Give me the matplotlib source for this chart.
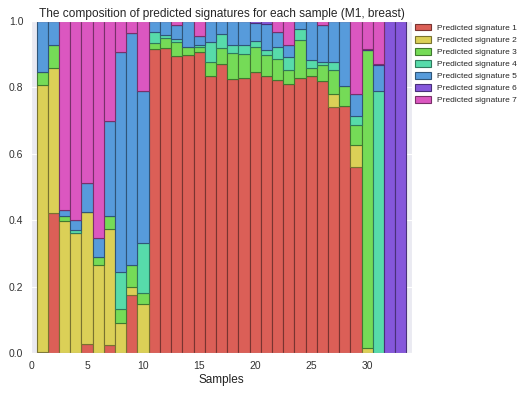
import matplotlib
matplotlib.use("Agg")
import matplotlib.pyplot as plt
import numpy as np
import seaborn as sns

samples = list(range(1, 34))
labels = ["Predicted signature %d" % i for i in range(1, 8)]

# segment heights, per sample
sig1 = [0.005, 0.421, 0.0, 0.0, 0.028, 0.0, 0.025, 0.0, 0.175, 0.0,
        0.917, 0.920, 0.895, 0.899, 0.907, 0.835, 0.870, 0.826, 0.829, 0.848,
        0.834, 0.822, 0.810, 0.827, 0.835, 0.820, 0.740, 0.744, 0.561, 0.0,
        0.0, 0.0, 0.0]
sig2 = [0.802, 0.438, 0.399, 0.361, 0.398, 0.266, 0.349, 0.090, 0.025, 0.148,
        0.0, 0.0, 0.0, 0.0, 0.0, 0.0, 0.0, 0.0, 0.0, 0.0,
        0.0, 0.0, 0.0, 0.0, 0.0, 0.0, 0.040, 0.0, 0.067, 0.015,
        0.0, 0.0, 0.0]
sig3 = [0.040, 0.070, 0.014, 0.0, 0.0, 0.025, 0.040, 0.042, 0.066, 0.034,
        0.018, 0.029, 0.042, 0.023, 0.015, 0.042, 0.050, 0.079, 0.073, 0.074,
        0.063, 0.065, 0.044, 0.117, 0.025, 0.047, 0.072, 0.060, 0.059, 0.897,
        0.0, 0.0, 0.0]
sig4 = [0.0, 0.0, 0.0, 0.010, 0.0, 0.0, 0.0, 0.114, 0.0, 0.151,
        0.032, 0.008, 0.008, 0.0, 0.007, 0.060, 0.042, 0.022, 0.025, 0.017,
        0.015, 0.035, 0.038, 0.031, 0.022, 0.010, 0.025, 0.0, 0.027, 0.0,
        0.789, 0.0, 0.0]
sig5 = [0.153, 0.071, 0.018, 0.030, 0.087, 0.057, 0.286, 0.661, 0.698, 0.457,
        0.033, 0.043, 0.042, 0.078, 0.026, 0.063, 0.038, 0.073, 0.073, 0.054,
        0.080, 0.046, 0.037, 0.025, 0.118, 0.110, 0.123, 0.196, 0.066, 0.0,
        0.078, 0.0, 0.0]
sig6 = [0.0, 0.0, 0.0, 0.0, 0.0, 0.0, 0.0, 0.0, 0.0, 0.0,
        0.0, 0.0, 0.0, 0.0, 0.0, 0.0, 0.0, 0.0, 0.0, 0.007,
        0.008, 0.0, 0.0, 0.0, 0.0, 0.0, 0.0, 0.0, 0.0, 0.005,
        0.005, 1.0, 1.0]
sig7 = [0.0, 0.0, 0.569, 0.599, 0.487, 0.652, 0.300, 0.093, 0.036, 0.210,
        0.0, 0.0, 0.013, 0.0, 0.045, 0.0, 0.0, 0.0, 0.0, 0.0,
        0.0, 0.032, 0.071, 0.0, 0.0, 0.013, 0.0, 0.0, 0.220, 0.083,
        0.128, 0.0, 0.0]

series = [sig1, sig2, sig3, sig4, sig5, sig6, sig7]

sns.set_style("darkgrid")
plt.rcParams['font.family'] = ['Liberation Sans', 'DejaVu Sans']

colors = sns.color_palette("hls", 7)

fig = plt.figure(figsize=(5.17, 3.94), dpi=100)
ax = fig.add_axes([0.060, 0.1033, 0.737, 0.8434])

bottom = np.zeros(len(samples))
for vals, lab, c in zip(series, labels, colors):
    vals = np.array(vals)
    edge = tuple(np.array(c) * 0.55)
    ax.bar(samples, vals, width=1.0, bottom=bottom, color=c,
           edgecolor=edge, linewidth=0.8, label=lab)
    bottom += vals

ax.set_xlim(0, 34)
ax.set_ylim(0, 1.0)
ax.set_xticks([0, 5, 10, 15, 20, 25, 30])
ax.set_yticks([0.0, 0.2, 0.4, 0.6, 0.8, 1.0])
ax.tick_params(axis='both', labelsize=7.5, colors='#333333', pad=2)
ax.set_xlabel("Samples", fontsize=8.5, labelpad=2, color='#222222')
ax.set_title("The composition of predicted signatures for each sample (M1, breast)",
             fontsize=8.6, pad=3)
ax.legend(loc='upper left', bbox_to_anchor=(1.0, 1.0), frameon=False,
          fontsize=6.0, handlelength=2.0, handleheight=0.9, handletextpad=0.7,
          labelspacing=0.45, borderaxespad=0.1, borderpad=0.2)

fig.savefig("out.png", dpi=100)
